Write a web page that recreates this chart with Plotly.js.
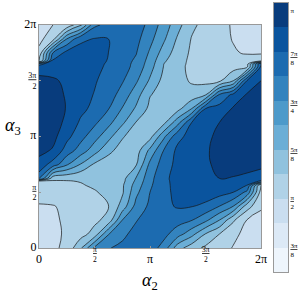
<!DOCTYPE html>
<html><head><meta charset="utf-8">
<script src="https://cdn.plot.ly/plotly-3.0.1.min.js"></script>
<style>html,body{margin:0;padding:0;background:#fff;} #chart{width:305px;height:294px;}</style>
</head><body><div id="chart"></div>
<script>
// grid positions, in units of pi
const alpha2 = [0,0.125,0.25,0.375,0.5,0.625,0.75,0.875,1,1.125,1.25,1.375,1.5,1.625,1.75,1.875,2];
const alpha3 = [0,0.125,0.25,0.375,0.5,0.56,0.6,0.625,0.75,0.875,1,1.125,1.25,1.375,1.5,1.625,1.65,1.68,1.75,1.875,2];
// values, one row per alpha3 value (bottom to top)
const rowA = [1.47,1.56,1.65,1.97,2.44,2.59,2.64,2.70,2.70,2.52,2.08,1.885,1.76,1.674,1.59,1.52,1.47];
const rowB = [1.48,1.55,1.63,1.72,1.88,2.39,2.56,2.66,2.70,2.66,2.49,2.27,1.99,1.80,1.64,1.55,1.49];
const rowC = [1.52,1.57,1.63,1.68,1.75,1.87,2.40,2.59,2.68,2.72,2.68,2.61,2.45,2.20,1.83,1.59,1.53];
const rowD = [1.58,1.59,1.64,1.69,1.745,1.795,2.08,2.47,2.64,2.75,2.82,2.81,2.75,2.60,2.40,1.89,1.63];
const rowE = [1.70,1.72,1.74,1.76,1.78,1.86,1.97,2.35,2.60,2.76,2.84,2.90,2.92,2.88,2.80,2.54,1.72];
const rowF = [1.74,1.75,1.76,1.78,1.83,1.90,1.97,2.29,2.57,2.75,2.86,2.92,2.95,2.96,2.92,2.79,1.76];
const rowG = [1.78,1.78,1.79,1.81,1.84,1.88,1.94,2.24,2.55,2.75,2.87,2.93,2.97,2.99,2.97,2.90,2.78];
const rowH = [2.70,1.88,1.85,1.82,1.83,1.86,1.93,2.21,2.54,2.75,2.88,2.94,2.98,3.00,2.99,2.95,2.88];
const rowI = [2.92,2.72,2.43,2.19,1.97,1.90,1.88,1.98,2.45,2.70,2.86,2.92,2.98,3.03,3.07,3.08,3.06];
const rowJ = [3.06,2.98,2.71,2.51,2.29,2.05,1.92,1.90,2.25,2.61,2.85,2.92,2.98,3.05,3.10,3.12,3.10];
const rowK = [3.10,3.06,2.86,2.67,2.48,2.27,2.02,1.90,1.93,2.36,2.74,2.88,2.96,3.04,3.11,3.13,3.12];
const rowL = [3.13,3.10,2.95,2.77,2.64,2.46,2.24,1.99,1.90,1.95,2.33,2.80,2.90,3.00,3.09,3.13,3.13];
const rowM = [3.12,3.09,2.99,2.85,2.75,2.61,2.39,2.17,1.95,1.90,1.93,2.20,2.80,2.88,3.02,3.10,3.11];
const rowN = [3.11,3.07,2.98,2.88,2.79,2.70,2.52,2.29,2.01,1.93,1.88,1.87,1.98,2.62,2.85,3.02,3.07];
const rowO = [3.09,3.03,2.96,2.89,2.82,2.72,2.62,2.43,2.17,1.93,1.86,1.78,1.74,1.76,2.00,2.82,3.00];
const rowP = [2.85,2.90,2.92,2.90,2.85,2.77,2.68,2.54,2.28,1.99,1.87,1.74,1.70,1.70,1.72,1.77,2.85];
const rowQ = [2.76,2.88,2.90,2.90,2.85,2.78,2.68,2.55,2.30,2.00,1.87,1.75,1.70,1.69,1.70,1.74,2.82];
const rowR = [1.72,2.84,2.88,2.90,2.87,2.79,2.68,2.57,2.32,2.03,1.87,1.76,1.70,1.68,1.68,1.70,1.72];
const rowS = [1.65,2.60,2.87,2.88,2.86,2.80,2.70,2.61,2.37,2.11,1.90,1.77,1.72,1.67,1.62,1.58,1.58];
const rowT = [1.55,1.71,2.40,2.76,2.81,2.80,2.72,2.66,2.46,2.23,1.97,1.79,1.73,1.66,1.59,1.54,1.52];
const rowU = [1.50,1.60,1.65,1.95,2.56,2.66,2.70,2.72,2.53,2.31,2.07,1.84,1.74,1.66,1.58,1.52,1.47];

const levelStart = 1.0, levelEnd = 3.2, levelStep = 0.2;
const bandColors = ['#eef5fc','#dce9f6','#cadef0','#b0d2e7','#90c2de','#6baed6','#4d9aca','#3383be','#1c6bb0','#0a549e','#083c7d'];

const xTickPi = [0, 1, 2];
const xTickText = ['0', 'π', '2π'];
const xFracPi = [0.5, 1.5];
const xFracText = ['<u>π</u><br>2', '<u>3π</u><br>2'];
const yTickPi = [0, 0.5, 1, 1.5, 2];
const yTickText = ['<span style="font-size:12px">0</span>','<u>π</u><br>2','<span style="font-size:12px">π</span>','<u>3π</u><br>2','<span style="font-size:12px">2π</span>'];
const cbTickPi = [0.375, 0.5, 0.625, 0.75, 0.875, 1];
const cbTickText = ['<u>3π</u><br>8','<u>π</u><br>2','<u>5π</u><br>8','<u>3π</u><br>4','<u>7π</u><br>8','π'];

const P = Math.PI;
const zRows = [rowA,rowB,rowC,rowD,rowE,rowF,rowG,rowH,rowI,rowJ,rowK,rowL,rowM,rowN,rowO,rowP,rowQ,rowR,rowS,rowT,rowU];
const FONT = 'Liberation Serif, serif';

// stepped colour scale: band k sits at (k+1)/12 of the contour colour domain
const nb = bandColors.length, N = nb + 1;
const cscale = [];
for (let k = 0; k < nb; k++) {
  const lo = k === 0 ? 0 : (k + 0.5) / N;
  const hi = k === nb - 1 ? 1 : (k + 1.5) / N;
  cscale.push([lo, bandColors[k]]);
  cscale.push([hi, bandColors[k]]);
}
const bandMids = bandColors.map((c, k) => levelStart + levelStep * (k + 0.5));

const main = {
  type: 'contour', x: alpha2.map(v => v * P), y: alpha3.map(v => v * P), z: zRows,
  autocontour: false,
  contours: {start: levelStart, end: levelEnd, size: levelStep, coloring: 'fill', showlines: true},
  line: {color: '#151515', width: 0.7, smoothing: 1.2},
  colorscale: cscale, showscale: false, hoverinfo: 'skip'
};
const bar = {
  type: 'heatmap', x: [0], y: bandMids, z: bandMids.map(v => [v]),
  zmin: levelStart - levelStep / 2, zmax: levelEnd + levelStep / 2,
  colorscale: cscale, showscale: false, xaxis: 'x2', yaxis: 'y2', hoverinfo: 'skip'
};
const frame = {showgrid: false, zeroline: false, showline: true, mirror: true, linecolor: '#999', linewidth: 1};
const annotations = [
  {xref: 'paper', yref: 'paper', x: 0.4336, y: -0.037, text: '<i>α</i><sub>2</sub>', showarrow: false,
   font: {size: 18, family: FONT, color: '#000'}, xanchor: 'center', yanchor: 'middle'},
  {xref: 'paper', yref: 'paper', x: -0.10, y: 0.54, text: '<i>α</i><sub>3</sub>', showarrow: false,
   font: {size: 18, family: FONT, color: '#000'}, xanchor: 'center', yanchor: 'middle'}
];
xFracPi.forEach((v, i) => annotations.push({
  xref: 'x', yref: 'paper', x: v * P, y: 0.103, text: xFracText[i], showarrow: false,
  font: {size: 7.5, family: FONT, color: '#000'}, xanchor: 'center', yanchor: 'top', borderpad: 0
}));

const layout = {
  width: 305, height: 294, margin: {l: 39, r: 10, t: 3, b: 22},
  paper_bgcolor: '#fff', plot_bgcolor: '#fff', showlegend: false,
  font: {family: FONT, color: '#000'},
  xaxis: Object.assign({domain: [0, 0.8672], range: [0, 2 * P], anchor: 'y',
    tickvals: xTickPi.map(v => v * P), ticktext: xTickText, tickfont: {size: 12},
    ticks: 'inside', ticklen: 2, tickcolor: '#999',
    minor: {tickvals: xFracPi.map(v => v * P), ticks: 'inside', ticklen: 2, tickcolor: '#999', showgrid: false}}, frame),
  yaxis: Object.assign({domain: [0.0892, 0.9182], range: [0, 2 * P], anchor: 'x',
    tickvals: yTickPi.map(v => v * P), ticktext: yTickText, tickfont: {size: 8},
    ticks: 'inside', ticklen: 2, tickcolor: '#999'}, frame),
  xaxis2: Object.assign({domain: [0.918, 0.9727], range: [-0.5, 0.5], anchor: 'y2',
    showticklabels: false, ticks: ''}, frame),
  yaxis2: Object.assign({domain: [0, 1], range: [levelStart, levelEnd], anchor: 'x2', side: 'right',
    tickvals: cbTickPi.map(v => v * P), ticktext: cbTickText, tickfont: {size: 7}, ticks: ''}, frame),
  annotations: annotations
};
Plotly.newPlot('chart', [main, bar], layout, {displayModeBar: false, staticPlot: true});
</script></body></html>
